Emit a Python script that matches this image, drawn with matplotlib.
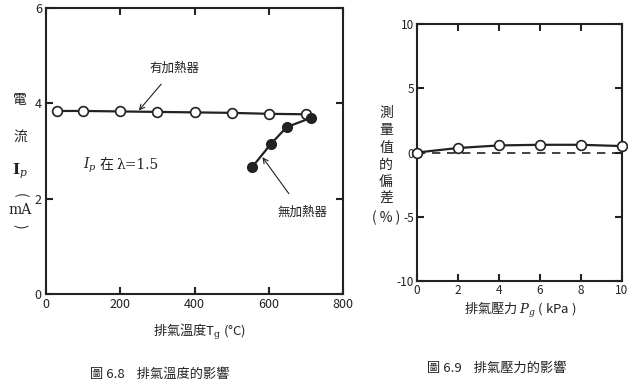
import matplotlib
matplotlib.use("Agg")
import matplotlib.pyplot as plt

plt.rcParams['font.family'] = ['Noto Sans CJK TC', 'DejaVu Sans']
plt.rcParams['mathtext.fontset'] = 'dejavuserif'
plt.rcParams['axes.unicode_minus'] = False

# Fig 6.8: exhaust temperature vs current
temp_heater = [30, 100, 200, 300, 400, 500, 600, 700]
cur_heater = [3.84, 3.84, 3.83, 3.82, 3.81, 3.80, 3.78, 3.77]
temp_noheater = [555, 605, 648, 715]
cur_noheater = [2.66, 3.14, 3.50, 3.70]

# Fig 6.9: exhaust pressure vs deviation
press = [0, 2, 4, 6, 8, 10]
dev = [0.0, 0.35, 0.55, 0.6, 0.6, 0.5]

ink = '#222222'
W, H = 628, 383
fig = plt.figure(figsize=(6.28, 3.83), dpi=100)

def fx(px):
    return px / W

def fy(py):
    return 1 - py / H

# ---- left chart
ax1 = fig.add_axes([fx(46), fy(294), fx(343 - 46), (294 - 8) / H])
ax1.plot(temp_heater, cur_heater, '-o', color=ink, lw=1.6, ms=7,
         mfc='white', mec=ink, mew=1.2, zorder=3)
ax1.plot(temp_noheater, cur_noheater, '-o', color=ink, lw=1.6, ms=7,
         mfc=ink, mec=ink, zorder=3)
ax1.set_xlim(0, 800)
ax1.set_ylim(0, 6)
ax1.set_xticks([0, 200, 400, 600, 800])
ax1.set_yticks([0, 2, 4, 6])
ax1.tick_params(direction='in', length=5, width=1.5, labelsize=9,
                top=True, right=True, colors=ink, pad=3)
for s in ax1.spines.values():
    s.set_linewidth(1.5)
    s.set_color(ink)

ax1.annotate('有加熱器', xy=(250, 3.85), xytext=(346, 4.73), fontsize=9,
             ha='center', va='center', color=ink,
             arrowprops=dict(arrowstyle='->', color=ink, lw=0.8,
                             shrinkA=6, shrinkB=0))
ax1.annotate('無加熱器', xy=(583, 2.87), xytext=(690, 1.72), fontsize=9,
             ha='center', va='center', color=ink,
             arrowprops=dict(arrowstyle='->', color=ink, lw=0.8,
                             shrinkA=8, shrinkB=0))
ax1.text(100, 2.7, r'$I_p$', fontsize=10, va='center', color=ink)
ax1.text(145, 2.7, '在', fontsize=10, va='center', color=ink)
ax1.text(190, 2.7, 'λ=1.5', fontsize=10, va='center', color=ink,
         family='DejaVu Serif')

# stacked y label
for txt, py in [('電', 100), ('流', 137)]:
    fig.text(fx(20), fy(py), txt, fontsize=10, ha='center', va='center', color=ink)
fig.text(fx(20), fy(171), r'$\mathbf{I}_p$', fontsize=11, ha='center', va='center', color=ink)
fig.text(fx(20), fy(195), '(', fontsize=10, ha='center', va='center', rotation=-90, color=ink)
fig.text(fx(20), fy(210), 'mA', fontsize=10, ha='center', va='center', color=ink,
         family='DejaVu Serif')
fig.text(fx(20), fy(226), ')', fontsize=10, ha='center', va='center', rotation=-90, color=ink)

fig.text(fx(200), fy(332), r'排氣溫度T$_{\rm g}$ (°C)', fontsize=9.5,
         ha='center', va='center', color=ink)
fig.text(fx(160), fy(374), '圖 6.8    排氣溫度的影響', fontsize=9.5,
         ha='center', va='center', color=ink)

# ---- right chart
ax2 = fig.add_axes([fx(417), fy(281), fx(622 - 417), (281 - 24) / H])
ax2.plot([0, 10], [0, 0], '--', color=ink, lw=1.2, dashes=(5, 4), zorder=2)
ax2.plot(press, dev, '-o', color=ink, lw=1.6, ms=7,
         mfc='white', mec=ink, mew=1.2, zorder=3, clip_on=False)
ax2.set_xlim(0, 10)
ax2.set_ylim(-10, 10)
ax2.set_xticks([0, 2, 4, 6, 8, 10])
ax2.set_yticks([-10, -5, 0, 5, 10])
ax2.tick_params(direction='in', length=5, width=1.5, labelsize=8.5,
                top=True, right=True, colors=ink, pad=2)
for s in ax2.spines.values():
    s.set_linewidth(1.5)
    s.set_color(ink)

for txt, py in [('測', 113), ('量', 130), ('值', 148), ('的', 165),
                ('偏', 182), ('差', 199), ('( % )', 218)]:
    fig.text(fx(386), fy(py), txt, fontsize=10, ha='center', va='center', color=ink)

fig.text(fx(520), fy(310), r'排氣壓力 $P_g$ ( kPa )', fontsize=9.5,
         ha='center', va='center', color=ink)
fig.text(fx(497), fy(368), '圖 6.9    排氣壓力的影響', fontsize=9.5,
         ha='center', va='center', color=ink)

fig.savefig('out.png', dpi=100)
